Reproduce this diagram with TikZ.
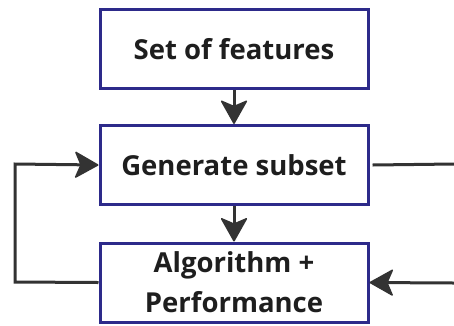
\documentclass[tikz,border=0pt]{standalone}
\usepackage{fontspec}
\setmainfont{Open Sans}
\usetikzlibrary{arrows.meta}
\definecolor{boxblue}{HTML}{2D2A8A}
\definecolor{arrowgray}{HTML}{333333}
\definecolor{txt}{HTML}{1E1E1E}
\begin{document}
\begin{tikzpicture}[x=1pt,y=-1pt,
  box/.style={draw=boxblue, line width=3pt, fill=white, minimum width=268pt, minimum height=79pt,
    inner sep=0pt, align=center, text=txt, font=\fontsize{27.5}{40}\selectfont\bfseries},
  conn/.style={draw=arrowgray, line width=3pt},
  tip/.style={-{Stealth[length=25pt 0 0,width=28pt 0 0,inset=6pt 0,round,line width=1.5pt]}}]
\useasboundingbox (0,0) rectangle (454,325);
\node[box] (feat) at (234,49) {Set of features};
\node[box] (gen) at (234,165) {Generate subset};
\node[box] (alg) at (234,282.5) {Algorithm +\\Performance};
\coordinate (rt) at (454,164);
\coordinate (rb) at (454,283);
\coordinate (lb) at (15,282);
\coordinate (lt) at (15,164);
\draw[conn,tip] (feat.south) -- (gen.north);
\draw[conn,tip] (gen.south) -- (alg.north);
\draw[conn,tip] (alg.west) -- (lb) -- (lt) -- (gen.west);
\draw[conn] (gen.east) ++(3,0) -- (rt);
\draw[conn,tip] (rb) -- (alg.east);
\end{tikzpicture}
\end{document}
